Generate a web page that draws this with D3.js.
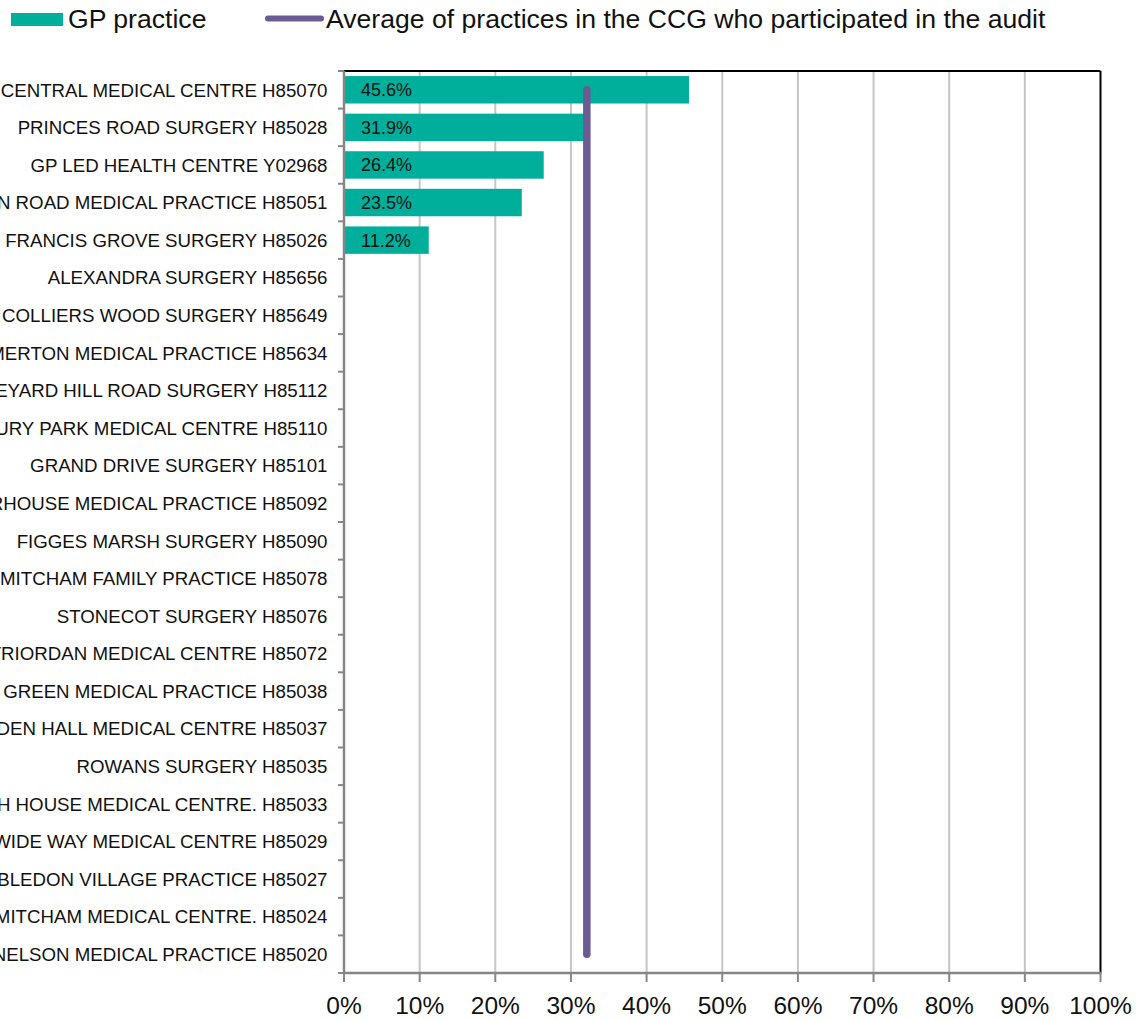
<!DOCTYPE html>
<html>
<head>
<meta charset="utf-8">
<script src="https://cdn.jsdelivr.net/npm/d3@7"></script>
<style>
  html, body { margin: 0; padding: 0; background: #fff; }
  svg { display: block; font-family: "Liberation Sans", Arial, sans-serif; }
</style>
</head>
<body>
<svg id="chart" width="1138" height="1019"></svg>
<script>
const categories = [
  "CENTRAL MEDICAL CENTRE H85070",
  "PRINCES ROAD SURGERY H85028",
  "GP LED HEALTH CENTRE Y02968",
  "N ROAD MEDICAL PRACTICE H85051",
  "FRANCIS GROVE SURGERY H85026",
  "ALEXANDRA SURGERY H85656",
  "COLLIERS WOOD SURGERY H85649",
  "MERTON MEDICAL PRACTICE H85634",
  "EYARD HILL ROAD SURGERY H85112",
  "URY PARK MEDICAL CENTRE H85110",
  "GRAND DRIVE SURGERY H85101",
  "RHOUSE MEDICAL PRACTICE H85092",
  "FIGGES MARSH SURGERY H85090",
  "MITCHAM FAMILY PRACTICE H85078",
  "STONECOT SURGERY H85076",
  "TRIORDAN MEDICAL CENTRE H85072",
  "GREEN MEDICAL PRACTICE H85038",
  "DEN HALL MEDICAL CENTRE H85037",
  "ROWANS SURGERY H85035",
  "H HOUSE MEDICAL CENTRE. H85033",
  "WIDE WAY MEDICAL CENTRE H85029",
  "BLEDON VILLAGE PRACTICE H85027",
  "MITCHAM MEDICAL CENTRE. H85024",
  "NELSON MEDICAL PRACTICE H85020"
];
const practiceValues = [45.6, 31.9, 26.4, 23.5, 11.2, null, null, null, null, null, null, null, null, null, null, null, null, null, null, null, null, null, null, null];
const averageValue = 32.1;
const tickValues = [0, 10, 20, 30, 40, 50, 60, 70, 80, 90, 100];
const seriesNames = ["GP practice", "Average of practices in the CCG who participated in the audit"];

(function () {
const teal = "#00AF9B";
const purple = "#6C5A94";

const svg = d3.select("#chart");
const pLeft = 344, pRight = 1100.5, pTop = 71, pBottom = 973;

const x = d3.scaleLinear().domain([0, 100]).range([pLeft, pRight]);
const y = d3.scaleBand().domain(categories).range([pTop, pBottom]).padding(0);
const barPad = 0.27;
const barH = y.bandwidth() * (1 - barPad);
const barOff = y.bandwidth() * barPad / 2;

// gridlines
svg.append("g").selectAll("line").data(tickValues.filter(t => t > 0 && t < 100)).join("line")
  .attr("x1", d => x(d)).attr("x2", d => x(d))
  .attr("y1", pTop).attr("y2", pBottom)
  .attr("stroke", "#C6C6C6").attr("stroke-width", 2);

// top & right border
svg.append("line").attr("x1", pLeft).attr("x2", pRight).attr("y1", pTop).attr("y2", pTop)
  .attr("stroke", "#000").attr("stroke-width", 2);
svg.append("line").attr("x1", pRight).attr("x2", pRight).attr("y1", pTop).attr("y2", pBottom)
  .attr("stroke", "#000").attr("stroke-width", 2);

// bars
const data = categories.map((c, i) => ({ c, v: practiceValues[i] }));
svg.append("g").selectAll("rect").data(data.filter(d => d.v != null)).join("rect")
  .attr("x", x(0)).attr("y", d => y(d.c) + barOff)
  .attr("width", d => x(d.v) - x(0)).attr("height", barH)
  .attr("fill", teal);

// data labels
svg.append("g").selectAll("text").data(data.filter(d => d.v != null)).join("text")
  .attr("x", x(0) + 17).attr("y", d => y(d.c) + y.bandwidth() / 2)
  .attr("dy", "0.36em")
  .attr("font-size", "18px").attr("fill", "#111")
  .text(d => d.v.toFixed(1) + "%");

// average line
const line = d3.line().x(d => x(averageValue)).y(d => y(d) + y.bandwidth() / 2);
svg.append("path").datum([categories[0], categories[categories.length - 1]])
  .attr("d", line).attr("stroke", purple).attr("stroke-width", 7.5)
  .attr("stroke-linecap", "round").attr("fill", "none");

// y axis
const yAxisG = svg.append("g").attr("transform", `translate(${pLeft},0)`);
yAxisG.append("line").attr("x1", 0).attr("x2", 0).attr("y1", pTop).attr("y2", pBottom + 1)
  .attr("stroke", "#868686").attr("stroke-width", 2.5);
const bounds = d3.range(categories.length + 1).map(i => pTop + i * y.step());
yAxisG.selectAll("line.tk").data(bounds).join("line").attr("class", "tk")
  .attr("x1", -6).attr("x2", 0).attr("y1", d => d).attr("y2", d => d)
  .attr("stroke", "#868686").attr("stroke-width", 2);
yAxisG.selectAll("text").data(categories).join("text")
  .attr("x", -16.5).attr("y", d => y(d) + y.bandwidth() / 2)
  .attr("dy", "0.36em").attr("text-anchor", "end")
  .attr("font-size", "18.7px").attr("fill", "#111")
  .text(d => d);

// x axis
const xAxisG = svg.append("g").attr("transform", `translate(0,${pBottom})`);
xAxisG.append("line").attr("x1", pLeft - 1).attr("x2", pRight + 1).attr("y1", 0).attr("y2", 0)
  .attr("stroke", "#868686").attr("stroke-width", 2.5);
xAxisG.selectAll("line.tk").data(tickValues).join("line").attr("class", "tk")
  .attr("x1", d => x(d)).attr("x2", d => x(d)).attr("y1", 0).attr("y2", 9)
  .attr("stroke", "#868686").attr("stroke-width", 2);
xAxisG.selectAll("text").data(tickValues).join("text")
  .attr("x", d => x(d)).attr("y", 40.5)
  .attr("text-anchor", "middle").attr("font-size", "24.5px").attr("fill", "#111")
  .text(d => d + "%");

// legend
const lg = svg.append("g");
lg.append("rect").attr("x", 11).attr("y", 13).attr("width", 52).attr("height", 13).attr("fill", teal);
lg.append("text").attr("x", 68).attr("y", 28).attr("font-size", "26.6px").attr("fill", "#111").text(seriesNames[0]);
lg.append("line").attr("x1", 268).attr("x2", 321).attr("y1", 18.5).attr("y2", 18.5)
  .attr("stroke", purple).attr("stroke-width", 6).attr("stroke-linecap", "round");
lg.append("text").attr("x", 326).attr("y", 28).attr("font-size", "26.6px").attr("fill", "#111").text(seriesNames[1]);
})();
</script>
</body>
</html>
